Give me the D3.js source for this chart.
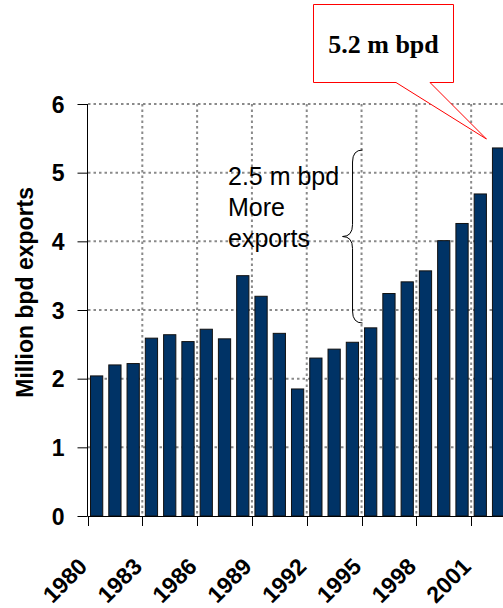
<!DOCTYPE html>
<html>
<head>
<meta charset="utf-8">
<script src="https://cdn.jsdelivr.net/npm/d3@7/dist/d3.min.js"></script>
<style>
  body { margin: 0; background: #fff; }
  svg { display: block; }
</style>
</head>
<body>
<script>
// Crude oil exports, million barrels per day
const years = [1980, 1981, 1982, 1983, 1984, 1985, 1986, 1987, 1988, 1989, 1990, 1991,
               1992, 1993, 1994, 1995, 1996, 1997, 1998, 1999, 2000, 2001, 2002];
const exportsMbpd = [2.04, 2.20, 2.22, 2.59, 2.64, 2.54, 2.72, 2.58, 3.50, 3.20, 2.66, 1.85,
                     2.30, 2.43, 2.53, 2.74, 3.24, 3.41, 3.57, 4.01, 4.26, 4.69, 5.36];
const yTicks = [0, 1, 2, 3, 4, 5, 6];
const labelYears = [1980, 1983, 1986, 1989, 1992, 1995, 1998, 2001];
const yTitle = "Million bpd exports";
const braceLines = ["2.5 m bpd", "More", "exports"];
const braceRange = [2.81, 5.33];   // span covered by the brace
const calloutText = "5.2 m bpd";

const W = 503, H = 608;
const svg = d3.select("body").append("svg").attr("width", W).attr("height", H)
  .style("font-family", "'Liberation Sans', Arial, sans-serif");

const x = d3.scaleBand().domain(years).range([87.5, 507.7])
  .paddingInner(0.33).paddingOuter(0.165);
const y = d3.scaleLinear().domain([0, 6]).range([516, 104]);
const step = x.step();
const slotStart = yr => x(yr) - step * 0.165;   // left edge of a category slot

// dotted grid
const grid = svg.append("g").attr("stroke", "#8a8a8a").attr("stroke-width", 2)
  .attr("stroke-dasharray", "2.5,3");
grid.selectAll("line.h").data(yTicks.slice(1)).join("line").attr("class", "h")
  .attr("x1", 88).attr("x2", W).attr("y1", d => y(d)).attr("y2", d => y(d));
grid.selectAll("line.v").data(labelYears.slice(1)).join("line").attr("class", "v")
  .attr("x1", d => slotStart(d)).attr("x2", d => slotStart(d))
  .attr("y1", y(6)).attr("y2", y(0));

// bars
svg.append("g").selectAll("rect").data(years).join("rect")
  .attr("x", d => x(d)).attr("width", x.bandwidth())
  .attr("y", (d, i) => y(exportsMbpd[i]))
  .attr("height", (d, i) => y(0) - y(exportsMbpd[i]))
  .attr("fill", "#003366").attr("stroke", "#111").attr("stroke-width", 1);

// y axis
const yAxis = svg.append("g").attr("transform", "translate(87.5,0)")
  .call(d3.axisLeft(y).tickValues(yTicks).tickFormat(d3.format("d")).tickSize(10).tickPadding(13));
yAxis.select(".domain").attr("stroke", "#000").attr("d", `M0,${y(6)}V${y(0)}`);
yAxis.selectAll(".tick line").attr("stroke", "#000");
yAxis.selectAll(".tick text").attr("font-size", 23).attr("font-weight", "bold")
  .attr("font-family", "'Liberation Sans', Arial, sans-serif").attr("dy", "0.36em").attr("fill", "#000");

// x axis line and ticks
svg.append("line").attr("x1", 87.5).attr("x2", W).attr("y1", y(0) + 0.5).attr("y2", y(0) + 0.5)
  .attr("stroke", "#000");
svg.append("g").selectAll("line").data(labelYears).join("line")
  .attr("x1", d => Math.round(slotStart(d)) + 0.5).attr("x2", d => Math.round(slotStart(d)) + 0.5)
  .attr("y1", y(0)).attr("y2", y(0) + 10).attr("stroke", "#000");

// rotated year labels
svg.append("g").selectAll("text").data(labelYears).join("text")
  .attr("transform", d => `translate(${x(d) + x.bandwidth() / 2 - 8},568) rotate(-45)`)
  .attr("text-anchor", "end").attr("font-size", 23).attr("font-weight", "bold")
  .text(d => d);

// y axis title
svg.append("text").attr("transform", `translate(33,${(186.7 + 398) / 2}) rotate(-90)`)
  .attr("text-anchor", "middle").attr("font-size", 23).attr("font-weight", "bold")
  .text(yTitle);

// brace with its note
const bx = slotStart(1995) - 9;
const bt = y(braceRange[1]), bb = y(braceRange[0]), bm = (bt + bb) / 2;
svg.append("path").attr("fill", "none").attr("stroke", "#000").attr("stroke-width", 1)
  .attr("d", `M${bx + 10},${bt} Q${bx},${bt} ${bx},${bt + 12} L${bx},${bm - 12}
              Q${bx},${bm} ${bx - 10},${bm} Q${bx},${bm} ${bx},${bm + 12}
              L${bx},${bb - 12} Q${bx},${bb} ${bx + 10},${bb}`);
const note = svg.append("text").attr("font-size", 25).attr("fill", "#000");
braceLines.forEach((t, i) => note.append("tspan").attr("x", 228).attr("y", 185 + i * 31).text(t));

// callout box
const tipX = x(2002) - 6, tipY = y(5.49);
svg.append("path").attr("fill", "#fff").attr("stroke", "#f00").attr("stroke-width", 1)
  .attr("d", `M313.5,4.5 H453.5 V82.5 H430 L${tipX},${tipY} L396,82.5 H313.5 Z`);
svg.append("text").attr("x", 383.5).attr("y", 53).attr("text-anchor", "middle")
  .attr("font-family", "'Liberation Serif', 'Times New Roman', serif")
  .attr("font-size", 26).attr("font-weight", "bold").text(calloutText);
</script>
</body>
</html>
